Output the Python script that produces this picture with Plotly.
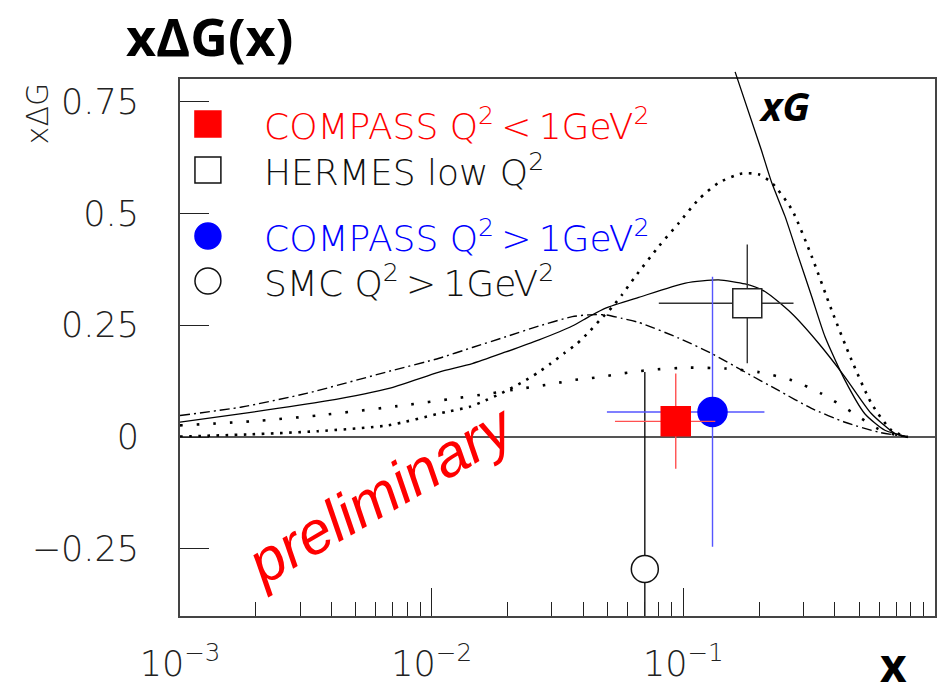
import plotly.graph_objects as go

# ---------------- data ----------------
# dash-dot curve
dd_x = [0.001, 0.00176, 0.00321, 0.0069, 0.0107, 0.0145, 0.0197, 0.0267, 0.0362, 0.0422,
        0.0491, 0.0571, 0.0665, 0.0959, 0.129, 0.176, 0.239, 0.323, 0.439, 0.594, 0.78]
dd_y = [0.048, 0.067, 0.098, 0.148, 0.176, 0.200, 0.224, 0.248, 0.269, 0.273,
        0.273, 0.265, 0.256, 0.221, 0.187, 0.145, 0.104, 0.064, 0.033, 0.011, 0.0]

# solid broad curve
sol_x = [0.001, 0.00176, 0.00376, 0.0069, 0.0107, 0.0145, 0.0197, 0.0267, 0.0362, 0.0422,
         0.0491, 0.0665, 0.102, 0.138, 0.176, 0.211, 0.2685, 0.344, 0.439, 0.557, 0.692, 0.78]
sol_y = [0.033, 0.052, 0.080, 0.110, 0.145, 0.164, 0.190, 0.217, 0.248, 0.269,
         0.288, 0.312, 0.344, 0.351, 0.342, 0.325, 0.277, 0.210, 0.134, 0.053, 0.008, 0.0]

# dotted curve with large peak
d1_x = [0.001, 0.00192, 0.00353, 0.0067, 0.0114, 0.0141, 0.0164, 0.0188, 0.023, 0.0263,
        0.0297, 0.0336, 0.0379, 0.0422, 0.0469, 0.0521, 0.0571, 0.0645, 0.0799, 0.0959,
        0.115, 0.138, 0.171, 0.199, 0.225, 0.27, 0.324, 0.388, 0.466, 0.559, 0.671, 0.78]
d1_y = [0.001, 0.006, 0.013, 0.026, 0.056, 0.067, 0.082, 0.097, 0.123, 0.143,
        0.164, 0.187, 0.209, 0.235, 0.263, 0.290, 0.318, 0.359, 0.426, 0.478,
        0.531, 0.568, 0.589, 0.587, 0.568, 0.508, 0.403, 0.284, 0.172, 0.075, 0.015, 0.0]

# flat dotted curve
d2_x = [0.001, 0.00192, 0.00353, 0.0078, 0.0123, 0.0169, 0.0226, 0.0267, 0.0311, 0.0362,
        0.0422, 0.0491, 0.0571, 0.0665, 0.0775, 0.105, 0.147, 0.199, 0.27, 0.354,
        0.466, 0.594, 0.735, 0.78]
d2_y = [0.026, 0.035, 0.048, 0.071, 0.086, 0.097, 0.108, 0.114, 0.120, 0.127,
        0.131, 0.136, 0.142, 0.147, 0.151, 0.155, 0.153, 0.145, 0.127, 0.097,
        0.056, 0.018, 0.001, 0.0]

# unpolarised xG
xg_x = [0.1606, 0.2037, 0.2246, 0.2536, 0.2864, 0.3236, 0.3656, 0.4385, 0.526, 0.632, 0.78]
xg_y = [0.816, 0.643, 0.568, 0.493, 0.403, 0.314, 0.224, 0.127, 0.052, 0.015, 0.0]

# data points: x, y, x-low, x-high, y-error up, y-error down
smc = dict(x=0.0703, y=-0.295, xlo=0.0703, xhi=0.0703, eup=0.44, edn=0.44)
hermes = dict(x=0.1795, y=0.299, xlo=0.0799, xhi=0.274, eup=0.131, edn=0.134)
compass_hi = dict(x=0.1306, y=0.056, xlo=0.0497, xhi=0.210, eup=0.302, edn=0.301)
compass_lo = dict(x=0.0933, y=0.035, xlo=0.0535, xhi=0.134, eup=0.107, edn=0.106)

legend_labels = ["COMPASS Q<sup>2</sup>\u2009&lt;\u20091GeV<sup>2</sup>",
                 "HERMES low Q<sup>2</sup>",
                 "COMPASS Q<sup>2</sup>\u2009&gt;\u20091GeV<sup>2</sup>",
                 "SMC Q<sup>2</sup>\u2009&gt;\u20091GeV<sup>2</sup>"]
legend_colors = ["#ff0000", "#111111", "#0000ff", "#111111"]

x_major = [1e-3, 1e-2, 1e-1]
x_major_text = ["10<sup>\u22123</sup>", "10<sup>\u22122</sup>", "10<sup>\u22121</sup>"]
x_minor = [m * 10.0 ** e for e in (-3, -2, -1) for m in range(2, 10)]
y_ticks = [-0.25, 0, 0.25, 0.5, 0.75]
y_ticktext = ["\u22120.25", "0", "0.25", "0.5", "0.75"]

# ---------------- geometry ----------------
W, H = 946, 694
ML, MR, MT, MB = 180, 9, 60, 78
PW = W - ML - MR
PH_TOT = H - MT - MB
PH_MAIN = 537
Y_RANGE = [-0.4, 0.8]
px_per_unit = PH_MAIN / (Y_RANGE[1] - Y_RANGE[0])


def px(xp):
    return (xp - ML) / PW


def py(yp):
    return (H - MB - yp) / PH_TOT


THIN = "DejaVu Sans"
TW = 200

fig = go.Figure()

fig.add_trace(go.Scatter(x=dd_x, y=dd_y, mode="lines",
                         line=dict(color="black", width=1.4, dash="10px,4px,2px,4px", shape="spline", smoothing=0.6)))
fig.add_trace(go.Scatter(x=sol_x, y=sol_y, mode="lines",
                         line=dict(color="black", width=1.3, shape="spline", smoothing=0.6)))
fig.add_trace(go.Scatter(x=d1_x, y=d1_y, mode="lines",
                         line=dict(color="black", width=2.6, dash="2.6px,6.5px", shape="spline", smoothing=0.6)))
fig.add_trace(go.Scatter(x=d2_x, y=d2_y, mode="lines",
                         line=dict(color="black", width=2.6, dash="2.6px,14px", shape="spline", smoothing=0.6)))
fig.add_trace(go.Scatter(x=xg_x, y=xg_y, mode="lines", xaxis="x2", yaxis="y2",
                         line=dict(color="black", width=1.3, shape="spline", smoothing=0.6)))


def point(p, symbol, fill, line_color, err_color, size):
    return go.Scatter(
        x=[p["x"]], y=[p["y"]], mode="markers",
        marker=dict(symbol=symbol, size=size, color=fill, line=dict(color=line_color, width=1.5)),
        error_x=dict(type="data", symmetric=False, array=[p["xhi"] - p["x"]],
                     arrayminus=[p["x"] - p["xlo"]], color=err_color, thickness=1.4, width=0),
        error_y=dict(type="data", symmetric=False, array=[p["eup"]], arrayminus=[p["edn"]],
                     color=err_color, thickness=1.4, width=0),
    )


fig.add_trace(point(smc, "circle", "white", "#111111", "#111111", 27))
fig.add_trace(point(hermes, "square", "white", "#222222", "#333333", 29))
fig.add_trace(point(compass_hi, "circle", "#0000ff", "#0000ff", "#5555ff", 29))
fig.add_trace(point(compass_lo, "square", "#ff0000", "#ff0000", "#ff5050", 29))

shapes = []
leg_y = [124, 170, 236, 281]
leg_kind = [("rect", "#ff0000", "#ff0000"), ("rect", "rgba(0,0,0,0)", "#111111"),
            ("circle", "#0000ff", "#0000ff"), ("circle", "rgba(0,0,0,0)", "#111111")]
for yc, (kind, fill, lc) in zip(leg_y, leg_kind):
    shapes.append(dict(type=kind, xref="paper", yref="paper",
                       x0=px(195), x1=px(221), y0=py(yc + 13), y1=py(yc - 13),
                       fillcolor=fill, line=dict(color=lc, width=1.5)))

annotations = []
for yc, lab, col in zip(leg_y, legend_labels, legend_colors):
    annotations.append(dict(text=lab, xref="paper", yref="paper", x=px(262), y=py(yc),
                            xanchor="left", yanchor="middle", showarrow=False,
                            font=dict(family=THIN, size=36, color=col, weight=TW)))

annotations += [
    dict(text="x\u0394G(x)", xref="paper", yref="paper", x=px(210), y=py(35),
         xanchor="center", yanchor="middle", showarrow=False,
         font=dict(family="Open Sans", size=52, color="black", weight=700)),
    dict(text="x\u0394G", xref="paper", yref="paper", x=px(38), y=py(113),
         xanchor="center", yanchor="middle", showarrow=False, textangle=-90,
         font=dict(family=THIN, size=30, color="#222222", weight=TW)),
    dict(text="xG", xref="paper", yref="paper", x=px(786), y=py(105),
         xanchor="center", yanchor="middle", showarrow=False,
         font=dict(family="Open Sans", size=40, color="black", weight=700, style="italic")),
    dict(text="x", xref="paper", yref="paper", x=px(895), y=py(664),
         xanchor="center", yanchor="middle", showarrow=False,
         font=dict(family="Open Sans", size=46, color="black", weight=700)),
    dict(text="preliminary", xref="paper", yref="paper", x=px(381), y=py(494),
         xanchor="center", yanchor="middle", showarrow=False, textangle=-30,
         font=dict(family="Liberation Sans", size=60, color="#ff0000", style="italic")),
]

fig.update_layout(
    width=W, height=H,
    margin=dict(l=ML, r=MR, t=MT, b=MB, pad=0),
    paper_bgcolor="white", plot_bgcolor="rgba(0,0,0,0)",
    showlegend=False,
    shapes=shapes, annotations=annotations,
    xaxis=dict(type="log", range=[-3, 0], domain=[0, 1], anchor="y",
               showgrid=False, zeroline=False,
               showline=True, mirror=True, linecolor="#444444", linewidth=2,
               ticks="inside", ticklen=28, tickwidth=1.4, tickcolor="#222222",
               tickmode="array", tickvals=x_major, ticktext=x_major_text,
               ticklabelstandoff=16,
               tickfont=dict(family=THIN, size=35, color="#222222", weight=TW),
               minor=dict(tickmode="array", tickvals=x_minor, ticks="inside", ticklen=14,
                          tickwidth=1.3, tickcolor="#222222", showgrid=False)),
    yaxis=dict(range=Y_RANGE, domain=[0, PH_MAIN / PH_TOT], anchor="x",
               showgrid=False, zeroline=True, zerolinecolor="#555555", zerolinewidth=1.5,
               showline=True, mirror=True, linecolor="#444444", linewidth=2,
               ticks="inside", ticklen=29, tickwidth=1.4, tickcolor="#222222",
               tickmode="array", tickvals=y_ticks, ticktext=y_ticktext,
               ticklabelstandoff=32,
               tickfont=dict(family=THIN, size=35, color="#222222", weight=TW)),
    xaxis2=dict(type="log", range=[-3, 0], domain=[0, 1], anchor="y2", visible=False),
    yaxis2=dict(range=[Y_RANGE[0], Y_RANGE[0] + PH_TOT / px_per_unit], domain=[0, 1],
                anchor="x2", visible=False),
)

fig.write_html("out.html")
